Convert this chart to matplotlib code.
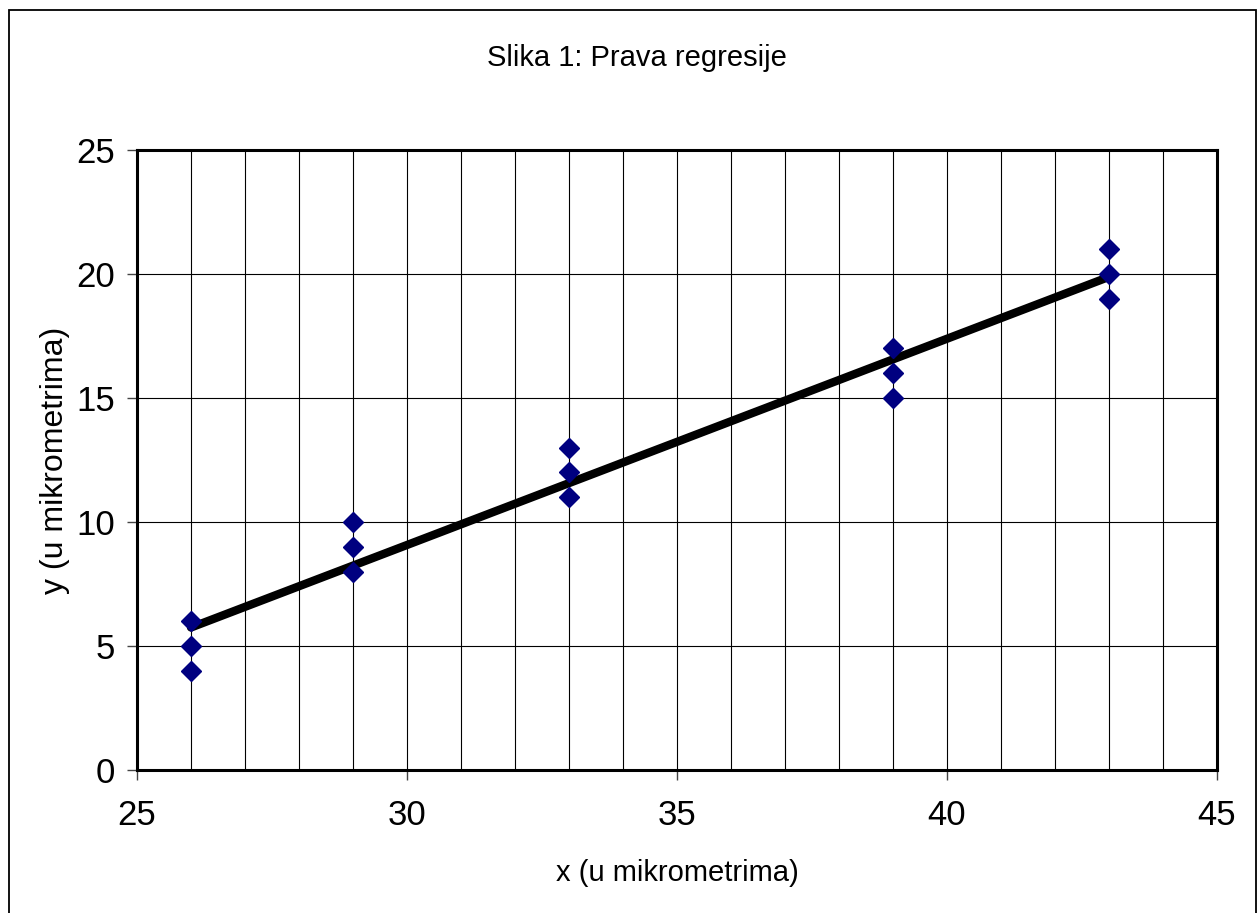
import numpy as np
import matplotlib.pyplot as plt
from matplotlib.patches import Rectangle

plt.rcParams['font.family'] = ['Liberation Sans', 'DejaVu Sans']

# measured points (micrometres)
x_vals = [26, 26, 26, 29, 29, 29, 33, 33, 33, 39, 39, 39, 43, 43, 43]
y_vals = [4, 5, 6, 8, 9, 10, 11, 12, 13, 15, 16, 17, 19, 20, 21]

title = 'Slika 1: Prava regresije'
xlabel = 'x (u mikrometrima)'
ylabel = 'y (u mikrometrima)'

x = np.array(x_vals, dtype=float)
y = np.array(y_vals, dtype=float)
k, n = np.polyfit(x, y, 1)
x_line = np.array([x.min(), x.max()])
y_line = k * x_line + n

fig = plt.figure(figsize=(12.58, 9.13), dpi=100)
ax = fig.add_axes([0.1089, 0.1566, 0.8585, 0.6791])

# outer chart border (bottom edge falls off the picture)
fig.patches.append(Rectangle((0.0072, -0.01), 0.9912, 0.999, transform=fig.transFigure,
                             fill=False, edgecolor='black', linewidth=1.3))

ax.set_xlim(25, 45)
ax.set_ylim(0, 25)
ax.set_xticks(np.arange(25, 46, 5))
ax.set_yticks(np.arange(0, 26, 5))
ax.set_xticks(np.arange(25, 46, 1), minor=True)

ax.grid(True, which='minor', axis='x', color='black', linewidth=0.8)
ax.grid(True, which='major', axis='both', color='black', linewidth=0.8)
ax.set_axisbelow(True)

ax.plot(x_line, y_line, color='black', linewidth=6, solid_capstyle='round', zorder=3)
ax.plot(x, y, linestyle='none', marker='D', markersize=10, color='#000080', zorder=4)

for s in ax.spines.values():
    s.set_linewidth(2.2)
ax.tick_params(which='major', direction='out', length=7, width=1, color='#444444', labelsize=25)
ax.tick_params(axis='x', which='major', pad=14)
ax.tick_params(axis='y', which='major', pad=9)
ax.tick_params(which='minor', length=0)

ax.set_xlabel(xlabel, fontsize=21, va='center')
ax.xaxis.set_label_coords(0.5, -0.166)
ax.set_ylabel(ylabel, fontsize=23, va='center')
ax.yaxis.set_label_coords(-0.0759, 0.5)
fig.text(0.5063, 0.936, title, fontsize=21, ha='center', va='center')

fig.savefig('out.png', dpi=100)
